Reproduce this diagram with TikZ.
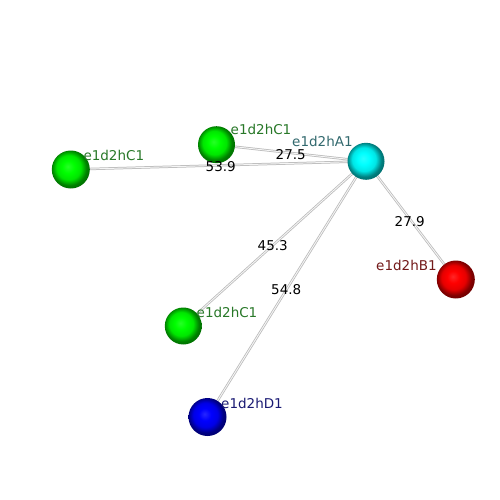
\documentclass[tikz,border=0pt]{standalone}
\usepackage{fontspec}
\setmainfont{DejaVu Sans}
\definecolor{lgreen}{RGB}{40,120,40}
\definecolor{lteal}{RGB}{50,105,110}
\definecolor{lred}{RGB}{115,25,25}
\definecolor{lblue}{RGB}{25,25,115}
\makeatletter
\pgfdeclareradialshading[tikz@ball]{softball}{\pgfqpoint{-4bp}{4bp}}{%
  color(0bp)=(tikz@ball!85!white);
  color(8bp)=(tikz@ball);
  color(16bp)=(tikz@ball!90!black);
  color(23bp)=(tikz@ball!50!black);
  color(50bp)=(tikz@ball!10!black)}
\makeatother
\tikzset{
  atom/.style={circle, inner sep=0pt, minimum size=37pt, ball color=#1, shading=softball},
  edgeo/.style={draw=gray!55, line width=2.4pt},
  edgei/.style={draw=gray!8, line width=0.9pt},
  lab/.style={anchor=base west, inner sep=0pt, font=\fontsize{13.5}{16}\selectfont},
  num/.style={anchor=base west, inner sep=0pt, font=\fontsize{13.5}{16}\selectfont, text=black}
}
\begin{document}
\begin{tikzpicture}[x=1pt,y=-1pt]
\useasboundingbox (0,0) rectangle (500,500);
\fill[white] (0,0) rectangle (500,500);
% atom positions
\coordinate (A) at (366,161.3);
\coordinate (C1) at (216.5,144.7);
\coordinate (C2) at (70.8,169.5);
\coordinate (B) at (455.8,279.5);
\coordinate (C3) at (183.3,326);
\coordinate (D) at (207.5,417);
% edges
\foreach \t in {C1,C2,B,C3,D}{
  \draw[edgeo] (A) -- (\t);
  \draw[edgei] (A) -- (\t);
}
% atoms
\node[atom=cyan] (nA) at (A) {};
\node[atom=green] (nC1) at (C1) {};
\node[atom=green, minimum size=38pt] (nC2) at (C2) {};
\node[atom=red, minimum size=38pt] (nB) at (B) {};
\node[atom=green] (nC3) at (C3) {};
\node[atom=blue, minimum size=38pt] (nD) at (D) {};
% labels
\node[lab, text=lgreen] (lC2) at (83.3,160) {e1d2hC1};
\node[lab, text=lgreen] (lC1) at (230.5,135) {e1d2hC1};
\node[lab, text=lteal] (lA) at (292,146.7) {e1d2hA1};
\node[lab, text=lred] (lB) at (376,270) {e1d2hB1};
\node[lab, text=lgreen] (lC3) at (196.5,317) {e1d2hC1};
\node[lab, text=lblue] (lD) at (221,408) {e1d2hD1};
% distances
\node[num] (d1) at (205.5,171.5) {53.9};
\node[num] (d2) at (275.5,159.3) {27.5};
\node[num] (d3) at (394.5,226) {27.9};
\node[num] (d4) at (257.5,250) {45.3};
\node[num] (d5) at (271,294) {54.8};
\end{tikzpicture}
\end{document}
